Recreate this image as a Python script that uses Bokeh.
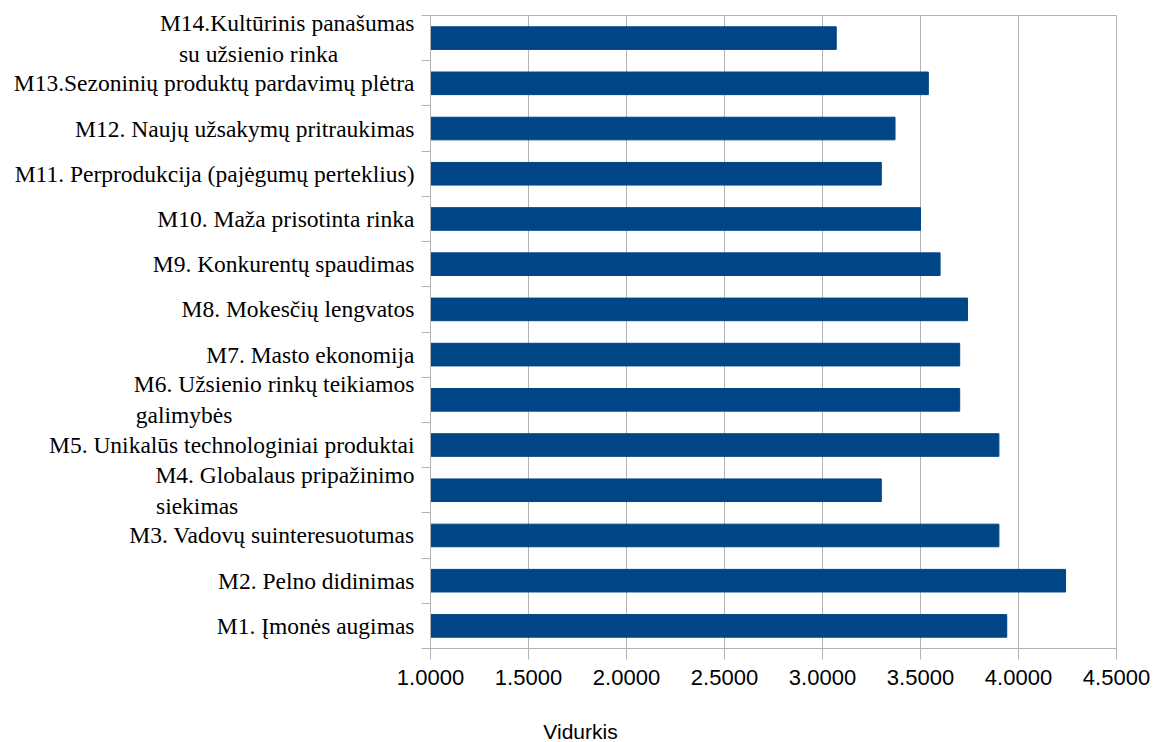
from bokeh.plotting import figure
from bokeh.models import FixedTicker, NumeralTickFormatter, Range1d, Label
from bokeh.embed import file_html
from bokeh.resources import INLINE

NB = "\u00a0"
categories = [
    "M1. Įmonės augimas",
    "M2. Pelno didinimas",
    "M3. Vadovų suinteresuotumas",
    "M4. Globalaus pripažinimo\nsiekimas" + NB * 30,
    "M5. Unikalūs technologiniai produktai",
    "M6. Užsienio rinkų teikiamos\ngalimybės" + NB * 31,
    "M7. Masto ekonomija",
    "M8. Mokesčių lengvatos",
    "M9. Konkurentų spaudimas",
    "M10. Maža prisotinta rinka",
    "M11. Perprodukcija (pajėgumų perteklius)",
    "M12. Naujų užsakymų pritraukimas",
    "M13.Sezoninių produktų pardavimų plėtra",
    "M14.Kultūrinis panašumas\nsu užsienio rinka" + NB * 13,
]
values = [3.94, 4.24, 3.90, 3.30, 3.90, 3.70, 3.70, 3.74, 3.60, 3.50, 3.30, 3.37, 3.54, 3.07]
x_ticks = [1.0, 1.5, 2.0, 2.5, 3.0, 3.5, 4.0, 4.5]
x_title = "Vidurkis"

n = len(categories)
centers = [i + 0.5 for i in range(n)]
GRAY = "#b3b3b3"

p = figure(width=1153, height=742, output_backend="svg", toolbar_location=None,
           x_range=Range1d(1.0, 4.5), y_range=Range1d(0, n),
           min_border_left=430, min_border_right=37, min_border_top=15, min_border_bottom=94)
p.hbar(y=centers, right=values, left=0, height=0.5, color="#004586")

p.xaxis.ticker = FixedTicker(ticks=x_ticks)
p.xaxis.formatter = NumeralTickFormatter(format="0.0000")
p.xaxis.major_label_text_font = "Liberation Sans"
p.xaxis.major_label_text_font_size = "22px"
p.xaxis.major_label_text_color = "black"
p.xaxis.axis_line_color = GRAY
p.xaxis.major_tick_line_color = GRAY
p.xaxis.major_tick_in = 0
p.xaxis.major_tick_out = 11
p.xaxis.minor_tick_line_color = None
p.xaxis.major_label_standoff = 10

p.yaxis.ticker = FixedTicker(ticks=centers, minor_ticks=list(range(n + 1)))
p.yaxis.major_label_overrides = {c: lab for c, lab in zip(centers, categories)}
p.yaxis.major_label_text_font = "Liberation Serif"
p.yaxis.major_label_text_font_size = "23.5px"
p.yaxis.major_label_text_color = "black"
p.yaxis.axis_line_color = GRAY
p.yaxis.major_tick_in = 0
p.yaxis.major_tick_out = 9
p.yaxis.major_tick_line_color = None
p.yaxis.minor_tick_in = 0
p.yaxis.minor_tick_out = 9
p.yaxis.minor_tick_line_color = GRAY
p.yaxis.major_label_standoff = 7

p.xgrid.grid_line_color = GRAY
p.ygrid.grid_line_color = None
p.outline_line_color = GRAY
p.background_fill_color = "white"
p.border_fill_color = "white"

p.add_layout(Label(x=150, y=-21, x_units="screen", y_units="screen", text=x_title,
                   text_font="Liberation Sans", text_font_size="21px", text_color="black",
                   text_align="center", text_baseline="middle"), "below")

open("out.html", "w").write(file_html(p, INLINE))
